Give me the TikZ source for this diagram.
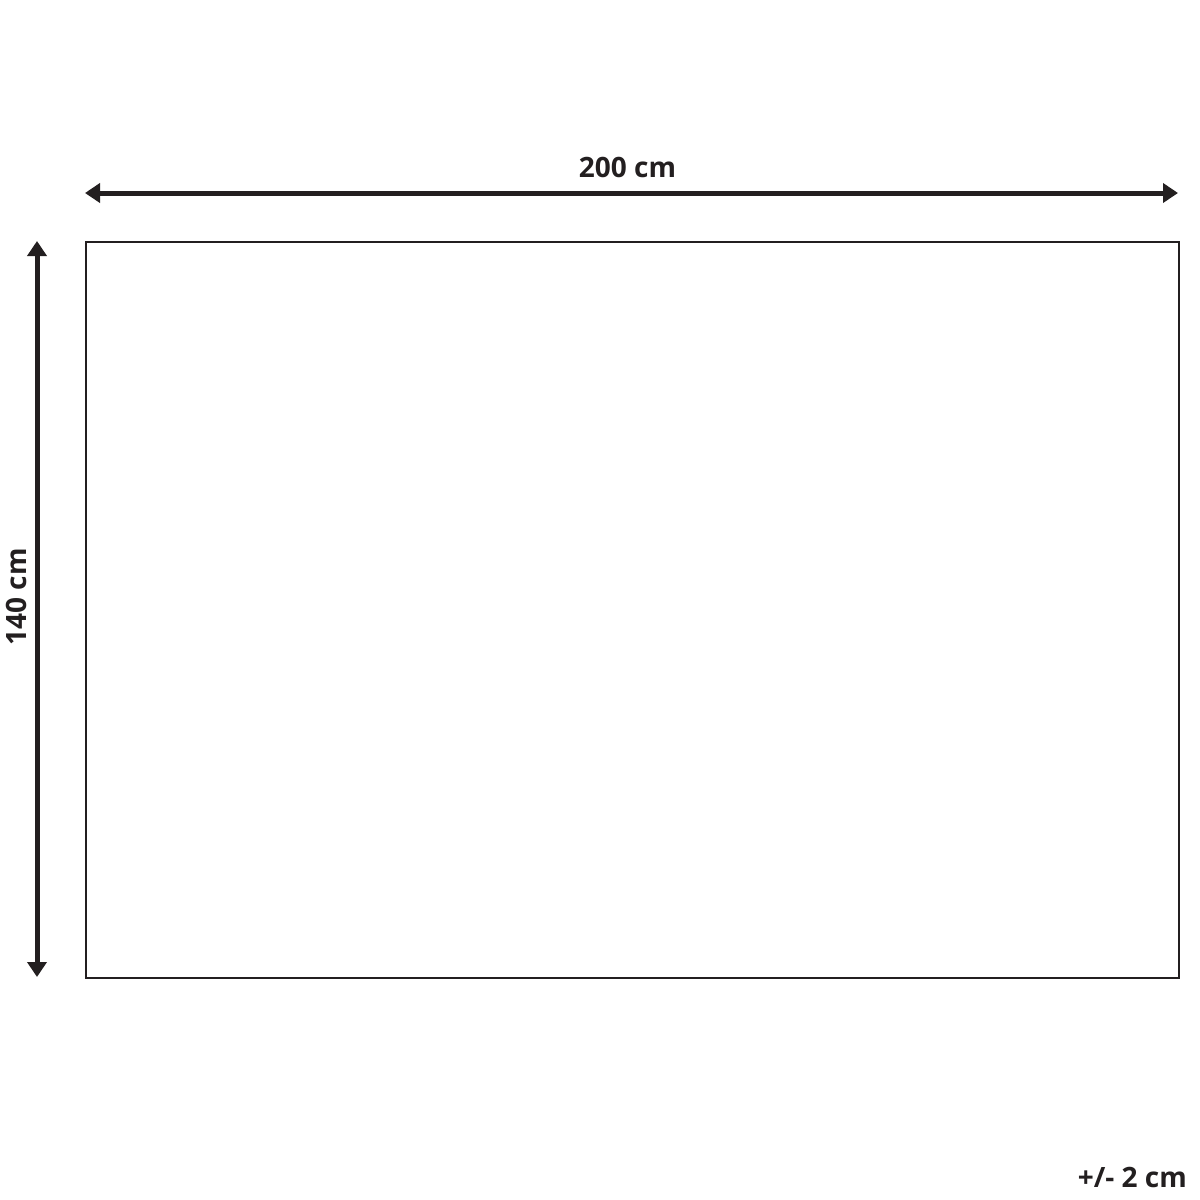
\documentclass[tikz,border=0pt]{standalone}
\usepackage{fontspec}
\setmainfont{Open Sans}
\usetikzlibrary{arrows.meta}
\definecolor{ink}{HTML}{231F20}
\tikzset{
  dim/.style={draw=ink, line width=5pt, {Triangle[length=15pt,width=19pt]}-{Triangle[length=15pt,width=19pt]}},
  lbl/.style={text=ink, font=\fontsize{28}{32}\selectfont\bfseries, inner sep=0pt},
}
\begin{document}
\begin{tikzpicture}[x=1pt,y=-1pt]
\useasboundingbox (0,0) rectangle (1200,1200);
\node[draw=ink, line width=1.6pt, minimum width=1093pt, minimum height=736pt, inner sep=0pt, anchor=north west] (rug) at (85,241) {};
\coordinate (tl) at (85,193);
\coordinate (tr) at (1178,193);
\coordinate (lt) at (37,241);
\coordinate (lb) at (37,977);
\draw[dim] (tl) -- (tr);
\draw[dim] (lt) -- (lb);
\node[lbl, anchor=base] (w) at (627.5,177.5) {200 cm};
\node[lbl, anchor=base, rotate=90] (h) at (27,597) {140 cm};
\node[lbl, anchor=base east] (tol) at (1187,1187.5) {+/- 2 cm};
\end{tikzpicture}
\end{document}
